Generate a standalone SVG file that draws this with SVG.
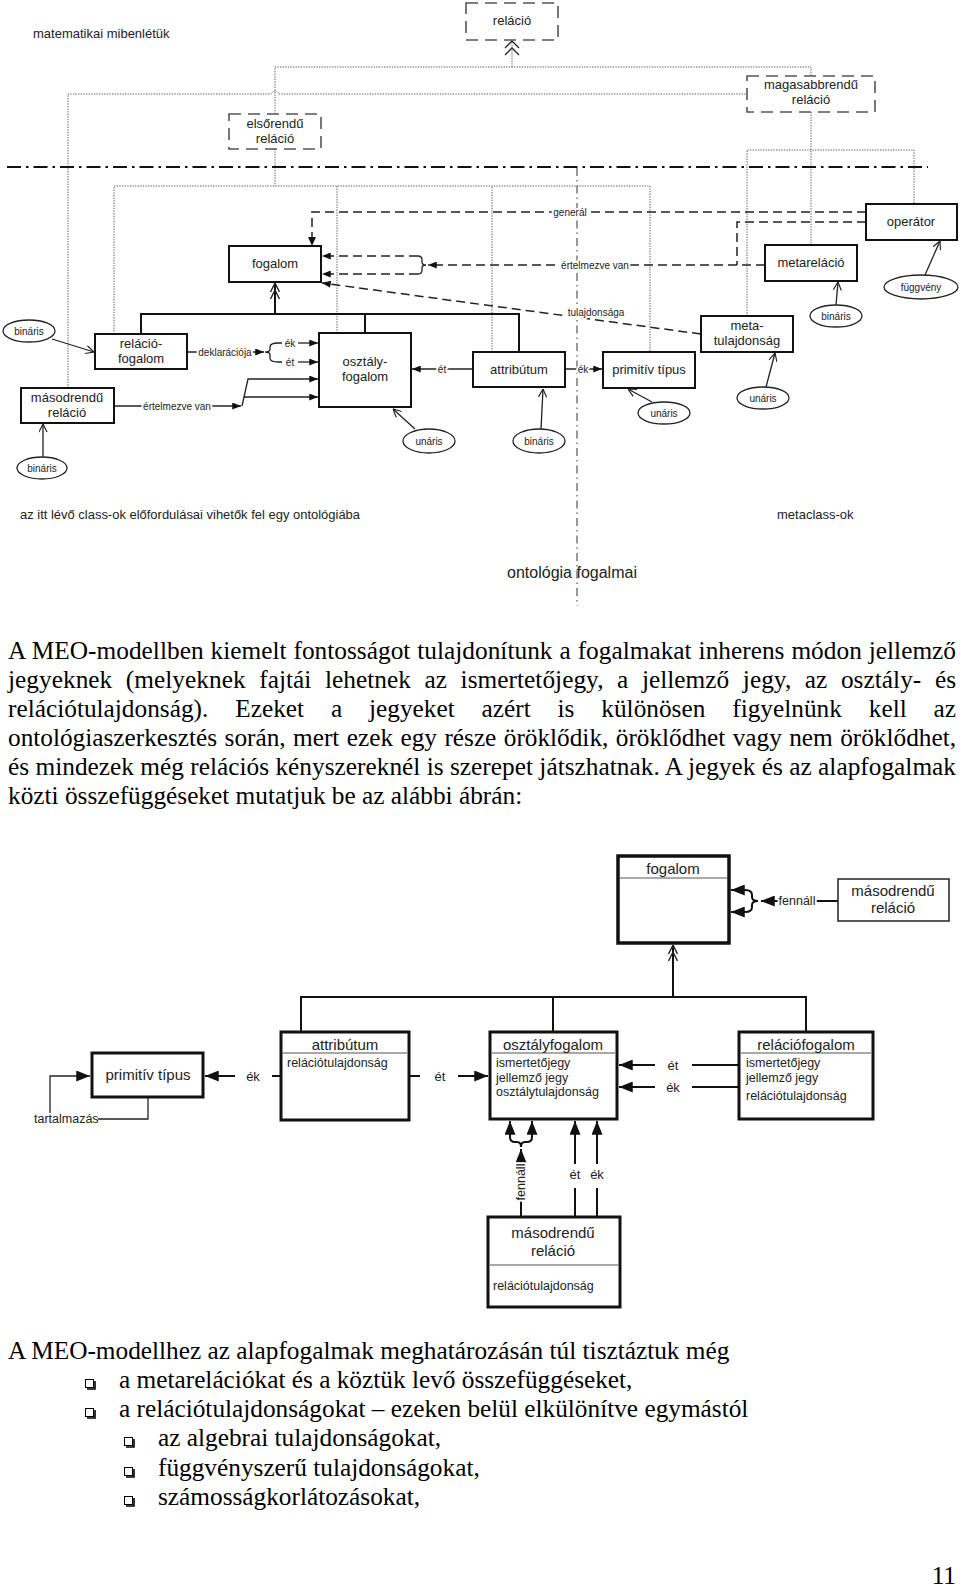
<svg xmlns="http://www.w3.org/2000/svg" width="960" height="1588" viewBox="0 0 960 1588">
<defs>
<style>
.box{fill:#fff;stroke:#111;stroke-width:2}
.box3{fill:#fff;stroke:#111;stroke-width:3}
.dbox{fill:#fff;stroke:#555;stroke-width:1.6;stroke-dasharray:12 7}
.dot{fill:none;stroke:#555;stroke-width:1;stroke-dasharray:1.3 1.3}
.dash{fill:none;stroke:#222;stroke-width:1.5;stroke-dasharray:9 5}
.ln{fill:none;stroke:#222;stroke-width:1.3}
.ln2{fill:none;stroke:#111;stroke-width:2}
.sep{stroke:#555;stroke-width:1.2}
.ell{fill:#fff;stroke:#222;stroke-width:1.3}
.t{font-family:"Liberation Sans",Arial,sans-serif;fill:#222}
.c{text-anchor:middle}
.s13{font-size:13px}
.s15{font-size:15px}
.s12{font-size:12.5px}
.s10{font-size:10px}
.halo{paint-order:stroke;stroke:#fff;stroke-width:4px;stroke-linejoin:round}
.serif{font-family:"Liberation Serif","Times New Roman",serif;font-size:25.3px;fill:#000}
</style>
<marker id="fa" viewBox="0 0 10 8" refX="10" refY="4" markerWidth="9" markerHeight="7" orient="auto" markerUnits="userSpaceOnUse"><path d="M0,0L10,4L0,8z" fill="#111"/></marker>
<marker id="fb" viewBox="0 0 10 8" refX="10" refY="4" markerWidth="14" markerHeight="11" orient="auto" markerUnits="userSpaceOnUse"><path d="M0,0L10,4L0,8z" fill="#111"/></marker>
<marker id="oa" viewBox="0 0 10 10" refX="10" refY="5" markerWidth="9" markerHeight="9" orient="auto" markerUnits="userSpaceOnUse"><path d="M1,0.5L10,5L1,9.5" fill="none" stroke="#222" stroke-width="1.3"/></marker>
<marker id="od" viewBox="0 0 16 10" refX="16" refY="5" markerWidth="16" markerHeight="10" orient="auto" markerUnits="userSpaceOnUse"><path d="M7,0.5L16,5L7,9.5M0,0.5L9,5L0,9.5" fill="none" stroke="#222" stroke-width="1.4"/></marker>
</defs>
<rect width="960" height="1588" fill="#fff"/>

<g id="connectors">
<!-- top dotted hierarchy -->
<path class="dot" d="M512,67V42"/>
<path d="M505,48L512,41L519,48M505,55L512,48L519,55" fill="none" stroke="#222" stroke-width="1.3"/>
<path class="dot" d="M275,114V67H811V76"/>
<path class="dot" d="M68,388V94H271Q275,88 279,94H747"/>
<path class="dot" d="M275,149V186"/>
<path class="dot" d="M114,334V186H650V352"/>
<path class="dot" d="M337,333V186"/>
<path class="dot" d="M492,352V186"/>
<path class="dot" d="M811,112V245"/>
<path class="dot" d="M747,316V150H914V204"/>
<!-- dash-dot separators -->
<path d="M7,167H928" fill="none" stroke="#111" stroke-width="2.2" stroke-dasharray="14 5 2.5 5"/>
<path d="M577,168V606" fill="none" stroke="#333" stroke-width="1" stroke-dasharray="8 4 1.5 4"/>
<!-- dashed relations -->
<path class="dash" d="M866,212H312V238"/>
<path d="M308,237L312,246L316,237z" fill="#111"/>
<path class="dash" d="M866,222H737V265"/>
<path class="dash" d="M765,265H428" marker-end="url(#fa)"/>
<path d="M418,256Q422,256 422,260V262Q422,265 426,265Q422,265 422,268V270Q422,274 418,274" fill="none" stroke="#222" stroke-width="1.3"/>
<path class="dash" d="M418,256H322" marker-end="url(#fa)"/>
<path class="dash" d="M418,274H322" marker-end="url(#fa)"/>
<path class="dash" d="M701,334L322,283" marker-end="url(#fa)"/>
<!-- solid relations diagram 1 -->
<path class="ln2" d="M141,334V314H519V352M365,314V333"/>
<path class="ln2" d="M275,314V283" marker-end="url(#od)"/>
<path class="ln" d="M187,352H264" marker-end="url(#fa)"/>
<path d="M278,343Q270,343 270,347V349Q270,352 265,352Q270,352 270,355V358Q270,362 278,362" fill="none" stroke="#222" stroke-width="1.3"/>
<path class="ln" d="M278,343H282M278,362H282"/>
<path class="ln" d="M298,343H318" marker-end="url(#fa)"/>
<path class="ln" d="M298,362H318" marker-end="url(#fa)"/>
<path class="ln" d="M114,406H241" marker-end="url(#fa)"/>
<path class="ln" d="M242,406L248,379H318" marker-end="url(#fa)"/>
<path class="ln" d="M244,397H318" marker-end="url(#fa)"/>
<path class="ln" d="M473,369H412" marker-end="url(#fa)"/>
<path class="ln" d="M565,369H602" marker-end="url(#fa)"/>
<path class="ln" d="M52,339L94,352" marker-end="url(#oa)"/>
<path class="ln" d="M43,457V424" marker-end="url(#oa)"/>
<path class="ln" d="M415,429L393,409" marker-end="url(#oa)"/>
<path class="ln" d="M541,429L543,389" marker-end="url(#oa)"/>
<path class="ln" d="M652,402L628,389" marker-end="url(#oa)"/>
<path class="ln" d="M766,387L775,353" marker-end="url(#oa)"/>
<path class="ln" d="M836,305L838,282" marker-end="url(#oa)"/>
<path class="ln" d="M925,275L940,241" marker-end="url(#oa)"/>
<!-- diagram 2 -->
<path class="ln2" d="M301,1032V997H806V1032M553,997V1032"/>
<path class="ln2" d="M673,997V945" marker-end="url(#od)"/>
<path class="ln2" d="M838,901H761" marker-end="url(#fb)"/>
<path d="M745,890Q752,890 752,895V897Q752,901 758,901Q752,901 752,905V907Q752,912 745,912" fill="none" stroke="#111" stroke-width="2"/>
<path class="ln2" d="M745,890H731" marker-end="url(#fb)"/>
<path class="ln2" d="M745,912H731" marker-end="url(#fb)"/>
<path class="ln2" d="M281,1076H272"/>
<path class="ln2" d="M235,1076H205" marker-end="url(#fb)"/>
<path class="ln2" d="M409,1076H420"/>
<path class="ln2" d="M458,1076H488" marker-end="url(#fb)"/>
<path class="ln" d="M148,1097V1119H98"/>
<path class="ln" d="M50,1113V1076H90" marker-end="url(#fb)"/>
<path class="ln2" d="M739,1065H692M739,1087H692"/>
<path class="ln2" d="M655,1065H619" marker-end="url(#fb)"/>
<path class="ln2" d="M655,1087H619" marker-end="url(#fb)"/>
<path class="ln2" d="M521,1217V1149" marker-end="url(#fb)"/>
<path d="M510,1137Q510,1142 515,1142H517Q521,1142 521,1147Q521,1142 525,1142H527Q532,1142 532,1137" fill="none" stroke="#111" stroke-width="2"/>
<path class="ln2" d="M510,1137V1121" marker-end="url(#fb)"/>
<path class="ln2" d="M532,1137V1121" marker-end="url(#fb)"/>
<path class="ln2" d="M575,1217V1188M597,1217V1188"/>
<path class="ln2" d="M575,1164V1121" marker-end="url(#fb)"/>
<path class="ln2" d="M597,1164V1121" marker-end="url(#fb)"/>
<!-- connector labels -->
<text class="t s10 c halo" x="225" y="356">deklarációja</text>
<text class="t s10 c" x="290" y="347">ék</text>
<text class="t s10 c" x="290" y="366">ét</text>
<text class="t s10 c halo" x="177" y="410">értelmezve van</text>
<text class="t s10 c halo" x="442" y="373">ét</text>
<text class="t s10 c halo" x="583" y="373">ék</text>
<text class="t s10 c halo" x="570" y="216">generál</text>
<text class="t s10 c halo" x="595" y="269">értelmezve van</text>
<text class="t s10 c halo" x="596" y="316">tulajdonsága</text>
<text class="t s12 c halo" x="797" y="905">fennáll</text>
<text class="t s13 c" x="253" y="1081">ék</text>
<text class="t s13 c" x="440" y="1081">ét</text>
<text class="t s12" x="34" y="1123">tartalmazás</text>
<text class="t s13 c" x="673" y="1070">ét</text>
<text class="t s13 c" x="673" y="1092">ék</text>
<text class="t s13 c" x="575" y="1179">ét</text>
<text class="t s13 c" x="597" y="1179">ék</text>
<text class="t s12 c halo" transform="translate(525,1182) rotate(-90)">fennáll</text>
</g>

<!-- diagram 1 nodes -->
<g id="relacio"><rect class="dbox" x="466" y="3" width="92" height="37"/><text class="t s13 c" x="512" y="25">reláció</text></g>
<g id="elsorendu"><rect class="dbox" x="229" y="114" width="92" height="35"/><text class="t s13 c" x="275" y="128">elsőrendű</text><text class="t s13 c" x="275" y="143">reláció</text></g>
<g id="magasabbrendu"><rect class="dbox" x="747" y="76" width="128" height="36"/><text class="t s13 c" x="811" y="89">magasabbrendű</text><text class="t s13 c" x="811" y="104">reláció</text></g>
<g id="fogalom1"><rect class="box" x="229" y="246" width="92" height="36"/><text class="t s13 c" x="275" y="268">fogalom</text></g>
<g id="relaciofogalom1"><rect class="box" x="95" y="334" width="92" height="35"/><text class="t s13 c" x="141" y="348">reláció-</text><text class="t s13 c" x="141" y="363">fogalom</text></g>
<g id="masodrendu1"><rect class="box" x="21" y="388" width="93" height="35"/><text class="t s13 c" x="67" y="402">másodrendű</text><text class="t s13 c" x="67" y="417">reláció</text></g>
<g id="osztalyfogalom1"><rect class="box" x="319" y="333" width="92" height="74"/><text class="t s13 c" x="365" y="366">osztály-</text><text class="t s13 c" x="365" y="381">fogalom</text></g>
<g id="attributum1"><rect class="box" x="473" y="352" width="92" height="35"/><text class="t s13 c" x="519" y="374">attribútum</text></g>
<g id="primitiv1"><rect class="box" x="603" y="352" width="92" height="36"/><text class="t s13 c" x="649" y="374">primitív típus</text></g>
<g id="metatulajdonsag"><rect class="box" x="701" y="316" width="92" height="36"/><text class="t s13 c" x="747" y="330">meta-</text><text class="t s13 c" x="747" y="345">tulajdonság</text></g>
<g id="metarelacio"><rect class="box" x="765" y="245" width="92" height="36"/><text class="t s13 c" x="811" y="267">metareláció</text></g>
<g id="operator"><rect class="box" x="866" y="204" width="91" height="36"/><text class="t s13 c" x="911" y="226">operátor</text></g>
<g id="e-binaris1"><ellipse class="ell" cx="29" cy="331" rx="26" ry="11"/><text class="t s10 c" x="29" y="334.5">bináris</text></g>
<g id="e-binaris2"><ellipse class="ell" cx="42" cy="468" rx="25" ry="11"/><text class="t s10 c" x="42" y="471.5">bináris</text></g>
<g id="e-unaris1"><ellipse class="ell" cx="429" cy="441" rx="26" ry="12"/><text class="t s10 c" x="429" y="444.5">unáris</text></g>
<g id="e-binaris3"><ellipse class="ell" cx="539" cy="441" rx="26" ry="12"/><text class="t s10 c" x="539" y="444.5">bináris</text></g>
<g id="e-unaris2"><ellipse class="ell" cx="664" cy="413" rx="26" ry="11"/><text class="t s10 c" x="664" y="416.5">unáris</text></g>
<g id="e-unaris3"><ellipse class="ell" cx="763" cy="398" rx="26" ry="11"/><text class="t s10 c" x="763" y="401.5">unáris</text></g>
<g id="e-binaris4"><ellipse class="ell" cx="836" cy="316" rx="26" ry="11"/><text class="t s10 c" x="836" y="319.5">bináris</text></g>
<g id="e-fuggveny"><ellipse class="ell" cx="921" cy="287" rx="37" ry="12"/><text class="t s10 c" x="921" y="290.5">függvény</text></g>

<g id="labels1">
<text class="t s13" x="33" y="38">matematikai mibenlétük</text>
<text class="t s12" x="20" y="519" textLength="340" lengthAdjust="spacingAndGlyphs">az itt lévő class-ok előfordulásai vihetők fel egy ontológiába</text>
<text class="t s13" x="777" y="519">metaclass-ok</text>
<text class="t c" x="572" y="578" font-size="16">ontológia fogalmai</text>
</g>

<g id="paragraph1" class="serif">
<text x="8" y="659" word-spacing="0.6" textLength="948" lengthAdjust="spacing">A MEO-modellben kiemelt fontosságot tulajdonítunk a fogalmakat inherens módon jellemző</text>
<text x="8" y="688" word-spacing="7.2" textLength="948" lengthAdjust="spacing">jegyeknek (melyeknek fajtái lehetnek az ismertetőjegy, a jellemző jegy, az osztály- és</text>
<text x="8" y="717" word-spacing="20.5" textLength="948" lengthAdjust="spacing">relációtulajdonság). Ezeket a jegyeket azért is különösen figyelnünk kell az</text>
<text x="8" y="746" word-spacing="1.1" textLength="948" lengthAdjust="spacing">ontológiaszerkesztés során, mert ezek egy része öröklődik, öröklődhet vagy nem öröklődhet,</text>
<text x="8" y="775" textLength="948" lengthAdjust="spacing">és mindezek még relációs kényszereknél is szerepet játszhatnak. A jegyek és az alapfogalmak</text>
<text x="8" y="804">közti összefüggéseket mutatjuk be az alábbi ábrán:</text>
</g>

<!-- diagram 2 nodes -->
<g id="fogalom2"><rect x="618" y="856" width="111" height="87" fill="#fff" stroke="#111" stroke-width="3.5"/><line class="sep" x1="620" y1="878" x2="727" y2="878"/><text class="t s15 c" x="673" y="874">fogalom</text></g>
<g id="masodrendu2a"><rect x="838" y="879" width="111" height="42" fill="#fff" stroke="#222" stroke-width="1.5"/><text class="t s15 c" x="893" y="896">másodrendű</text><text class="t s15 c" x="893" y="913">reláció</text></g>
<g id="primitiv2"><rect class="box3" x="92" y="1053" width="111" height="44"/><text class="t s15 c" x="148" y="1080">primitív típus</text></g>
<g id="attributum2"><rect class="box3" x="281" y="1032" width="128" height="88"/><line class="sep" x1="283" y1="1053" x2="407" y2="1053"/><text class="t s15 c" x="345" y="1050">attribútum</text><text class="t s12" x="287" y="1067">relációtulajdonság</text></g>
<g id="osztalyfogalom2"><rect class="box3" x="490" y="1032" width="127" height="87"/><line class="sep" x1="492" y1="1053" x2="615" y2="1053"/><text class="t s15 c" x="553" y="1050">osztályfogalom</text><text class="t s12" x="496" y="1067">ismertetőjegy</text><text class="t s12" x="496" y="1082">jellemző jegy</text><text class="t s12" x="496" y="1096">osztálytulajdonság</text></g>
<g id="relaciofogalom2"><rect class="box3" x="739" y="1032" width="134" height="87"/><line class="sep" x1="741" y1="1053" x2="871" y2="1053"/><text class="t s15 c" x="806" y="1050">relációfogalom</text><text class="t s12" x="746" y="1067">ismertetőjegy</text><text class="t s12" x="746" y="1082">jellemző jegy</text><text class="t s12" x="746" y="1100">relációtulajdonság</text></g>
<g id="masodrendu2b"><rect class="box3" x="488" y="1217" width="132" height="90"/><line class="sep" x1="490" y1="1265" x2="618" y2="1265"/><text class="t s15 c" x="553" y="1238">másodrendű</text><text class="t s15 c" x="553" y="1256">reláció</text><text class="t s12" x="493" y="1290">relációtulajdonság</text></g>

<g id="paragraph2" class="serif">
<text x="8" y="1359">A MEO-modellhez az alapfogalmak meghatározásán túl tisztáztuk még</text>
<text x="119" y="1388">a metarelációkat és a köztük levő összefüggéseket,</text>
<text x="119" y="1417">a relációtulajdonságokat – ezeken belül elkülönítve egymástól</text>
<text x="158" y="1446">az algebrai tulajdonságokat,</text>
<text x="158" y="1476">függvényszerű tulajdonságokat,</text>
<text x="158" y="1505">számosságkorlátozásokat,</text>
<text x="956" y="1584" text-anchor="end">11</text>
</g>
<g id="bullets" fill="none" stroke="#000">
<rect x="85.5" y="1379.5" width="8" height="8" stroke-width="1"/><path d="M87,1389H95V1381" stroke-width="1.6"/>
<rect x="85.5" y="1408.5" width="8" height="8" stroke-width="1"/><path d="M87,1418H95V1410" stroke-width="1.6"/>
<rect x="124.5" y="1437.5" width="8" height="8" stroke-width="1"/><path d="M126,1447H134V1439" stroke-width="1.6"/>
<rect x="124.5" y="1467.5" width="8" height="8" stroke-width="1"/><path d="M126,1477H134V1469" stroke-width="1.6"/>
<rect x="124.5" y="1496.5" width="8" height="8" stroke-width="1"/><path d="M126,1506H134V1498" stroke-width="1.6"/>
</g>
</svg>
